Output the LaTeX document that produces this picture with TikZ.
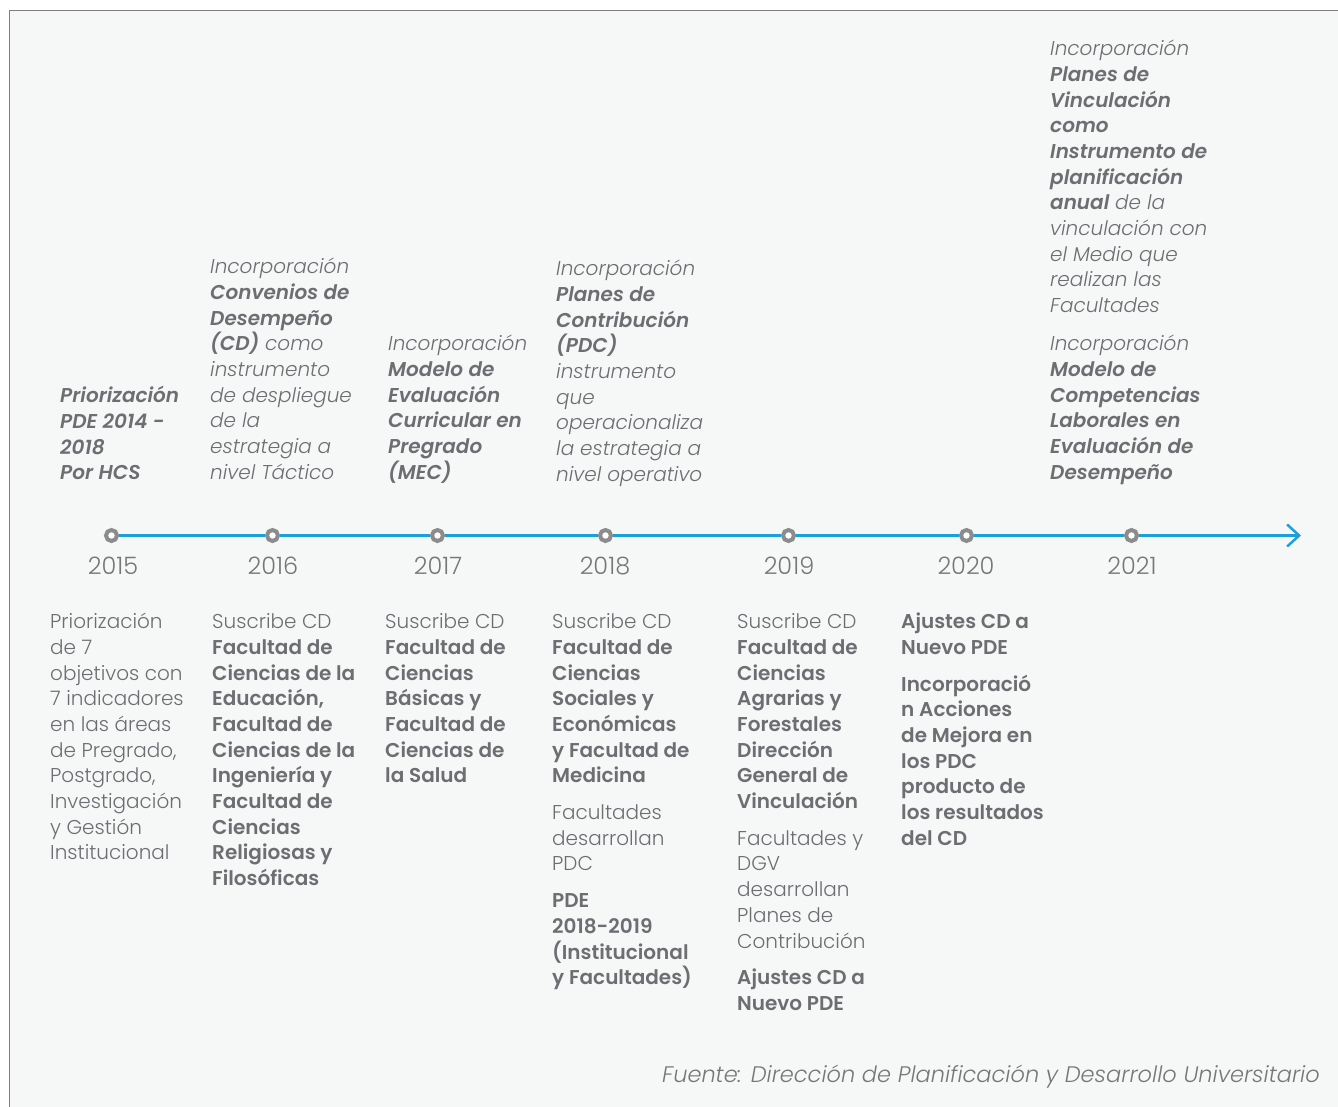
\documentclass[tikz,border=0pt]{standalone}
\usepackage{fontspec}
\setmainfont{Poppins Light}[
  BoldFont={Poppins SemiBold},
  ItalicFont={Poppins Light Italic},
  BoldItalicFont={Poppins SemiBold Italic}]
\usetikzlibrary{arrows.meta}

\definecolor{paper}{HTML}{F6F8F8}
\definecolor{frame}{HTML}{7F7F7F}
\definecolor{txt}{HTML}{6D6E71}
\definecolor{yeartxt}{HTML}{777777}
\definecolor{axis}{HTML}{1C9FDB}
\definecolor{ring}{HTML}{8C8C8C}

\tikzset{
  block/.style={anchor=north west, align=left, inner sep=0pt, text=txt,
    font=\fontsize{20}{25.7}\selectfont},
  above block/.style={block, font=\fontsize{20}{25.7}\selectfont\itshape},
  yearlabel/.style={anchor=center, inner sep=0pt, text=yeartxt,
    font=\fontsize{24}{28}\selectfont},
  milestone/.style={circle, draw=ring, fill=white, line width=4pt,
    minimum size=11pt, inner sep=0pt},
  axisline/.style={draw=axis, line width=2.5pt},
  source/.style={anchor=east, inner sep=0pt, text=yeartxt,
    font=\fontsize{22.5}{26}\selectfont\itshape},
}

\begin{document}
\begin{tikzpicture}[x=1pt, y=-1pt]
\useasboundingbox (0,0) rectangle (1338,1107);
\clip (0,0) rectangle (1338,1107);
\fill[white] (0,0) rectangle (1338,1107);
\filldraw[fill=paper, draw=frame, line width=1.5pt] (9.5,10.5) rectangle (1350,1120);

% milestones on the axis
\node[milestone] (c2015) at (111.5,535.5) {};
\node[milestone] (c2016) at (272.5,535.5) {};
\node[milestone] (c2017) at (437.5,535.5) {};
\node[milestone] (c2018) at (605.5,535.5) {};
\node[milestone] (c2019) at (788.5,535.5) {};
\node[milestone] (c2020) at (966.5,535.5) {};
\node[milestone] (c2021) at (1131.5,535.5) {};
\coordinate (tip) at (1301,535.5);

\draw[axisline] (c2015) -- (c2016);
\draw[axisline] (c2016) -- (c2017);
\draw[axisline] (c2017) -- (c2018);
\draw[axisline] (c2018) -- (c2019);
\draw[axisline] (c2019) -- (c2020);
\draw[axisline] (c2020) -- (c2021);
\draw[axisline, -{Straight Barb[length=12pt, width=22pt, line width=2.5pt]}] (c2021) -- (tip);

% years
\node[yearlabel] (y2015) at (113,566) {2015};
\node[yearlabel] (y2016) at (273,566) {2016};
\node[yearlabel] (y2017) at (438,566) {2017};
\node[yearlabel] (y2018) at (605,566) {2018};
\node[yearlabel] (y2019) at (789,566) {2019};
\node[yearlabel] (y2020) at (966,566) {2020};
\node[yearlabel] (y2021) at (1132,566) {2021};

% milestones above the axis
\node[above block] (a2015) at (60,384.5) {\strut\textbf{Priorización}\\\textbf{PDE 2014 -}\\\textbf{2018}\\\textbf{Por HCS}};
\node[above block] (a2016) at (210,255.5) {\strut Incorporación\\\textbf{Convenios de}\\\textbf{Desempeño}\\\textbf{(CD)} como\\instrumento\\de despliegue\\de la\\estrategia a\\nivel Táctico};
\node[above block] (a2017) at (388,332.5) {\strut Incorporación\\\textbf{Modelo de}\\\textbf{Evaluación}\\\textbf{Curricular en}\\\textbf{Pregrado}\\\textbf{(MEC)}};
\node[above block] (a2018) at (556,257.5) {\strut Incorporación\\\textbf{Planes de}\\\textbf{Contribución}\\\textbf{(PDC)}\\instrumento\\que\\operacionaliza\\la estrategia a\\nivel operativo};
\node[above block] (a2021) at (1050,37.5) {\strut Incorporación\\\textbf{Planes de}\\\textbf{Vinculación}\\\textbf{como}\\\textbf{Instrumento de}\\\textbf{planificación}\\\textbf{anual} de la\\vinculación con\\el Medio que\\realizan las\\Facultades};
\node[above block] (b2021) at (1050,332.5) {\strut Incorporación\\\textbf{Modelo de}\\\textbf{Competencias}\\\textbf{Laborales en}\\\textbf{Evaluación de}\\\textbf{Desempeño}};

% milestones below the axis
\node[block] (l2015) at (50,610.5) {\strut Priorización\\de 7\\objetivos con\\7 indicadores\\en las áreas\\de Pregrado,\\Postgrado,\\Investigación\\y Gestión\\Institucional};
\node[block] (l2016) at (212,610.5) {\strut Suscribe CD\\\textbf{Facultad de}\\\textbf{Ciencias de la}\\\textbf{Educación,}\\\textbf{Facultad de}\\\textbf{Ciencias de la}\\\textbf{Ingeniería y}\\\textbf{Facultad de}\\\textbf{Ciencias}\\\textbf{Religiosas y}\\\textbf{Filosóficas}};
\node[block] (l2017) at (385,610.5) {\strut Suscribe CD\\\textbf{Facultad de}\\\textbf{Ciencias}\\\textbf{Básicas y}\\\textbf{Facultad de}\\\textbf{Ciencias de}\\\textbf{la Salud}};
\node[block] (l2018) at (552,610.5) {\strut Suscribe CD\\\textbf{Facultad de}\\\textbf{Ciencias}\\\textbf{Sociales y}\\\textbf{Económicas}\\\textbf{y Facultad de}\\\textbf{Medicina}\\[11pt]Facultades\\desarrollan\\PDC\\[11pt]\textbf{PDE}\\\textbf{2018-2019}\\\textbf{(Institucional}\\\textbf{y Facultades)}};
\node[block] (l2019) at (737,610.5) {\strut Suscribe CD\\\textbf{Facultad de}\\\textbf{Ciencias}\\\textbf{Agrarias y}\\\textbf{Forestales}\\\textbf{Dirección}\\\textbf{General de}\\\textbf{Vinculación}\\[11pt]Facultades y\\DGV\\desarrollan\\Planes de\\Contribución\\[11pt]\textbf{Ajustes CD a}\\\textbf{Nuevo PDE}};
\node[block] (l2020) at (901,610.5) {\strut\textbf{Ajustes CD a}\\\textbf{Nuevo PDE}\\[11pt]\textbf{Incorporació}\\\textbf{n Acciones}\\\textbf{de Mejora en}\\\textbf{los PDC}\\\textbf{producto de}\\\textbf{los resultados}\\\textbf{del CD}};

% source line
\node[source] (fuente) at (1320,1077) {Fuente: Dirección de Planificación y Desarrollo Universitario};
\end{tikzpicture}
\end{document}
